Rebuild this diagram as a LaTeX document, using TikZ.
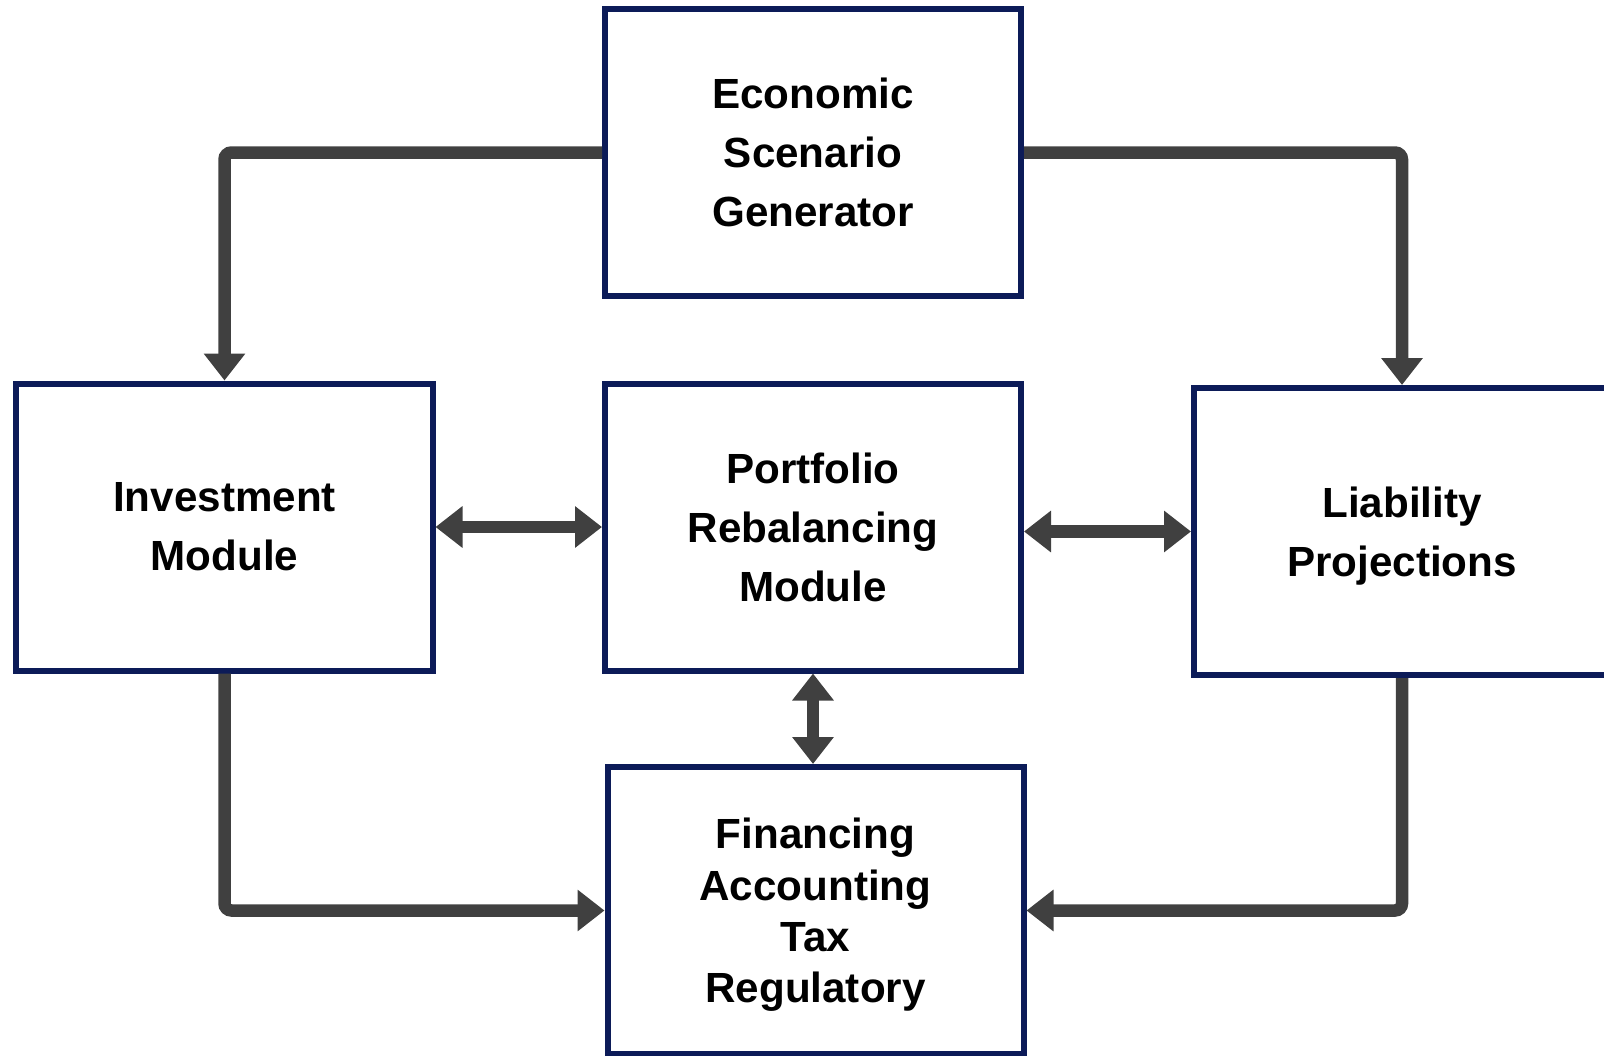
\documentclass[tikz,border=0pt]{standalone}
\usepackage{fontspec}
\setmainfont{Liberation Sans}
\definecolor{boxnavy}{RGB}{12,27,88}
\definecolor{linkgray}{RGB}{64,64,64}
\usepackage{tikz}
\usetikzlibrary{positioning,calc,arrows.meta}

\begin{document}
\begin{tikzpicture}[
  >={Triangle[length=0.27cm,width=0.40cm]},
  block/.style={draw=boxnavy,rectangle,line width=0.06cm,fill=white,align=center,
    minimum width=4.16cm,minimum height=2.87cm,inner sep=0pt,
    font=\fontsize{12}{16.8}\selectfont\bfseries},
  link/.style={draw=linkgray,line width=0.125cm,rounded corners=2pt}]
  \useasboundingbox (0,0) rectangle (16.04,10.55);
  \node[block] (esg) at (8.13,9.025) {Economic\\Scenario\\Generator};
  \node[block] (inv) at (2.245,5.28) {Investment\\Module};
  \node[block] (port) at (8.13,5.28) {Portfolio\\Rebalancing\\Module};
  \node[block,text depth=0pt] (liab) at (14.02,5.235) {Liability\\Projections};
  \node[block,text depth=0pt,font=\fontsize{12}{14.6}\selectfont\bfseries] (fin) at (8.155,1.445)
    {Financing\\Accounting\\Tax\\Regulatory};
  % feeds from the scenario generator
  \draw[link,->] (esg.west) -| (inv.north);
  \draw[link,->] (esg.east) -| (liab.north);
  % two-way links
  \draw[link,<->] (inv.east) -- (port.west);
  \draw[link,<->] (liab.west -| port.east) -- (liab.west);
  \draw[link,<->] (port.south) -- (port.south |- fin.north);
  % into financing
  \draw[link,->] (inv.south) |- (fin.west);
  \draw[link,->] (liab.south) |- (fin.east);
\end{tikzpicture}
\end{document}
